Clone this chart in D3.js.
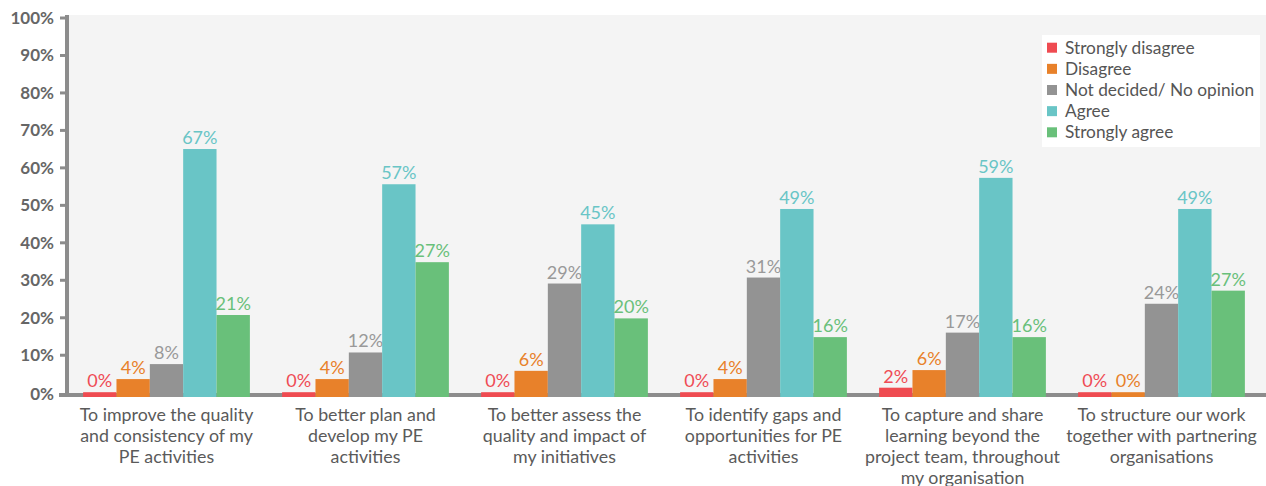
<!DOCTYPE html>
<html>
<head>
<meta charset="utf-8">
<script src="https://cdn.jsdelivr.net/npm/d3@7"></script>
<style>
  html, body { margin: 0; padding: 0; background: #ffffff; }
  svg { display: block; }
</style>
</head>
<body>
<svg id="chart" width="1266" height="486"></svg>
<script>
const categories = [
  "To improve the quality\nand consistency of my\nPE activities",
  "To better plan and\ndevelop my PE\nactivities",
  "To better assess the\nquality and impact of\nmy initiatives",
  "To identify gaps and\nopportunities for PE\nactivities",
  "To capture and share\nlearning beyond the\nproject team, throughout\nmy organisation",
  "To structure our work\ntogether with partnering\norganisations"
];
const seriesNames = ["Strongly disagree", "Disagree", "Not decided/ No opinion", "Agree", "Strongly agree"];
const seriesColors = ["#ef4b51", "#e8812a", "#939393", "#69c5c6", "#69c07a"];
const labelColors  = ["#ef4b55", "#e8812a", "#999999", "#69c5c6", "#69c07a"];

// bar heights as drawn (percent)
const stronglyDisagree = [0, 0, 0, 0, 1.2, 0];
const disagree         = [3.5, 3.5, 5.7, 3.5, 5.9, 0];
const notDecided       = [7.5, 10.6, 29.0, 30.6, 15.9, 23.6];
const agree            = [64.9, 55.5, 44.8, 48.9, 57.2, 48.9];
const stronglyAgree    = [20.6, 34.7, 19.7, 14.7, 14.7, 27.1];

// printed value labels
const stronglyDisagreeLabels = ["0%", "0%", "0%", "0%", "2%", "0%"];
const disagreeLabels         = ["4%", "4%", "6%", "4%", "6%", "0%"];
const notDecidedLabels       = ["8%", "12%", "29%", "31%", "17%", "24%"];
const agreeLabels            = ["67%", "57%", "45%", "49%", "59%", "49%"];
const stronglyAgreeLabels    = ["21%", "27%", "20%", "16%", "16%", "27%"];

const yTicks = [0, 10, 20, 30, 40, 50, 60, 70, 80, 90, 100];

const seriesValues = [stronglyDisagree, disagree, notDecided, agree, stronglyAgree];
const seriesLabels = [stronglyDisagreeLabels, disagreeLabels, notDecidedLabels, agreeLabels, stronglyAgreeLabels];

const svg = d3.select("#chart");
const W = 1266;
const font = "Lato, 'Open Sans', sans-serif";

const x0 = d3.scaleBand().domain(d3.range(categories.length)).range([67, 1261])
  .paddingInner(0.162).paddingOuter(0.081);
const x1 = d3.scaleBand().domain(d3.range(seriesNames.length)).range([0, x0.bandwidth()]);
const y = d3.scaleLinear().domain([0, 100]).range([392.2, 17.5]);
const baseY = 395;

// plot background
svg.append("rect").attr("x", 67).attr("y", 15).attr("width", W - 67).attr("height", baseY - 15)
  .attr("fill", "#f4f4f4");

// baseline
svg.append("rect").attr("x", 59).attr("y", baseY - 2).attr("width", W - 59).attr("height", 4)
  .attr("fill", "#8c8c8c");

// y axis
const yAxis = d3.axisLeft(y).tickValues(yTicks).tickFormat(d => d + "%").tickSize(6).tickPadding(6);
const gy = svg.append("g").attr("transform", "translate(66,0)").call(yAxis);
gy.select(".domain").remove();
gy.selectAll(".tick line").attr("stroke", "#8c8c8c").attr("stroke-width", 3);
gy.selectAll(".tick").filter(d => d === 0).attr("transform", `translate(0,${baseY - 0.5})`);
gy.selectAll(".tick text").attr("fill", "#666").attr("font-family", font)
  .attr("font-size", 17).attr("font-weight", "bold").attr("dy", "0.34em");
svg.append("rect").attr("x", 65).attr("y", 15).attr("width", 4).attr("height", baseY + 2 - 15)
  .attr("fill", "#8c8c8c");

// bars
const groups = svg.append("g").selectAll("g").data(categories).join("g")
  .attr("transform", (d, i) => `translate(${x0(i)},0)`);

groups.each(function(cat, ci) {
  const g = d3.select(this);
  seriesNames.forEach((s, si) => {
    const v = seriesValues[si][ci];
    g.append("rect")
      .attr("x", x1(si)).attr("width", x1.bandwidth())
      .attr("y", y(v)).attr("height", baseY + 2 - y(v))
      .attr("fill", seriesColors[si]);
    g.append("text")
      .attr("x", x1(si) + x1.bandwidth() / 2).attr("y", y(v) - 5)
      .attr("text-anchor", "middle")
      .attr("font-family", font).attr("font-size", 18)
      .attr("fill", labelColors[si])
      .text(seriesLabels[si][ci]);
  });
  const lines = cat.split("\n");
  const t = g.append("text").attr("text-anchor", "middle")
    .attr("font-family", font).attr("font-size", 17.8).attr("fill", "#5a5a5a");
  lines.forEach((ln, li) => {
    t.append("tspan").attr("x", x0.bandwidth() / 2).attr("y", 420.7 + li * 21).text(ln);
  });
});

// legend
const lg = svg.append("g");
lg.append("rect").attr("x", 1042).attr("y", 35).attr("width", 218).attr("height", 112).attr("fill", "#ffffff");
seriesNames.forEach((s, i) => {
  const cy = 47.7 + i * 21.15;
  lg.append("rect").attr("x", 1047).attr("y", cy - 5).attr("width", 10).attr("height", 10)
    .attr("fill", seriesColors[i]);
  lg.append("text").attr("x", 1065).attr("y", cy).attr("dy", "0.35em")
    .attr("font-family", font).attr("font-size", 17.3).attr("fill", "#555")
    .text(s);
});
</script>
</body>
</html>
